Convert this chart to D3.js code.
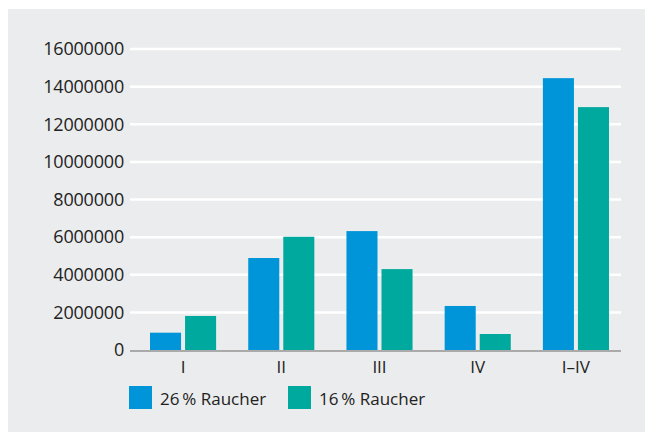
<!DOCTYPE html>
<html>
<head>
<meta charset="utf-8">
<script src="https://cdn.jsdelivr.net/npm/d3@7"></script>
<style>
  body { margin: 0; background: #fff; }
  svg { display: block; }
</style>
</head>
<body>
<svg id="chart" width="645" height="432"></svg>
<script>
var categories = ["I", "II", "III", "IV", "I\u2013IV"];
var seriesNames = ["26\u2009% Raucher", "16\u2009% Raucher"];
var raucher26 = [920000, 4890000, 6320000, 2340000, 14450000];
var raucher16 = [1810000, 6020000, 4300000, 850000, 12910000];
var yTicks = [0, 2000000, 4000000, 6000000, 8000000, 10000000, 12000000, 14000000, 16000000];

var colors = ["#0095d9", "#00a99d"];
var font = "'Open Sans', sans-serif";

var svg = d3.select("#chart");

// grey panel
svg.append("rect")
    .attr("x", 8).attr("y", 9)
    .attr("width", 645 - 8).attr("height", 432 - 9)
    .attr("fill", "#ebeced");

var plot = { left: 130, right: 621, top: 49, bottom: 350 };

var y = d3.scaleLinear()
    .domain([0, 16000000])
    .range([plot.bottom, plot.top]);

var x0 = d3.scaleBand()
    .domain(categories)
    .range([134, 625])
    .paddingInner(0.327)
    .paddingOuter(0.163);

var x1 = d3.scaleBand()
    .domain([0, 1])
    .range([0, x0.bandwidth()])
    .paddingInner(0.114);

// gridlines
svg.append("g")
    .selectAll("line")
    .data(yTicks.filter(function(d) { return d > 0; }))
    .enter().append("line")
    .attr("x1", plot.left).attr("x2", plot.right)
    .attr("y1", function(d) { return y(d); })
    .attr("y2", function(d) { return y(d); })
    .attr("stroke", "#fff")
    .attr("stroke-width", 2.5);

// y labels
svg.append("g")
    .attr("font-family", font)
    .attr("font-size", 18)
    .attr("letter-spacing", -0.2)
    .attr("fill", "#222")
    .selectAll("text")
    .data(yTicks)
    .enter().append("text")
    .attr("x", 124)
    .attr("y", function(d) { return y(d); })
    .attr("dy", "0.35em")
    .attr("text-anchor", "end")
    .text(function(d) { return d3.format("d")(d); });

// bars
var data = categories.map(function(c, i) {
    return { cat: c, vals: [raucher26[i], raucher16[i]] };
});

var groups = svg.append("g")
    .selectAll("g")
    .data(data)
    .enter().append("g")
    .attr("transform", function(d) { return "translate(" + x0(d.cat) + ",0)"; });

groups.selectAll("rect")
    .data(function(d) { return d.vals; })
    .enter().append("rect")
    .attr("x", function(d, i) { return x1(i); })
    .attr("y", function(d) { return y(d); })
    .attr("width", x1.bandwidth())
    .attr("height", function(d) { return y(0) - y(d); })
    .attr("fill", function(d, i) { return colors[i]; });

// x axis line
svg.append("line")
    .attr("x1", plot.left).attr("x2", plot.right)
    .attr("y1", plot.bottom + 1).attr("y2", plot.bottom + 1)
    .attr("stroke", "#aaaaaa")
    .attr("stroke-width", 2);

// category labels
svg.append("g")
    .attr("font-family", font)
    .attr("font-size", 17)
    .attr("fill", "#222")
    .selectAll("text")
    .data(categories)
    .enter().append("text")
    .attr("x", function(d) { return x0(d) + x0.bandwidth() / 2; })
    .attr("y", 373)
    .attr("text-anchor", "middle")
    .text(function(d) { return d; });

// legend
var legendX = [129, 288];
var legend = svg.append("g")
    .selectAll("g")
    .data(seriesNames)
    .enter().append("g")
    .attr("transform", function(d, i) { return "translate(" + legendX[i] + ",386)"; });

legend.append("rect")
    .attr("width", 23).attr("height", 23)
    .attr("fill", function(d, i) { return colors[i]; });

legend.append("text")
    .attr("x", 31).attr("y", 18.5)
    .attr("font-family", font)
    .attr("font-size", 17)
    .attr("fill", "#222")
    .text(function(d) { return d; });
</script>
</body>
</html>
